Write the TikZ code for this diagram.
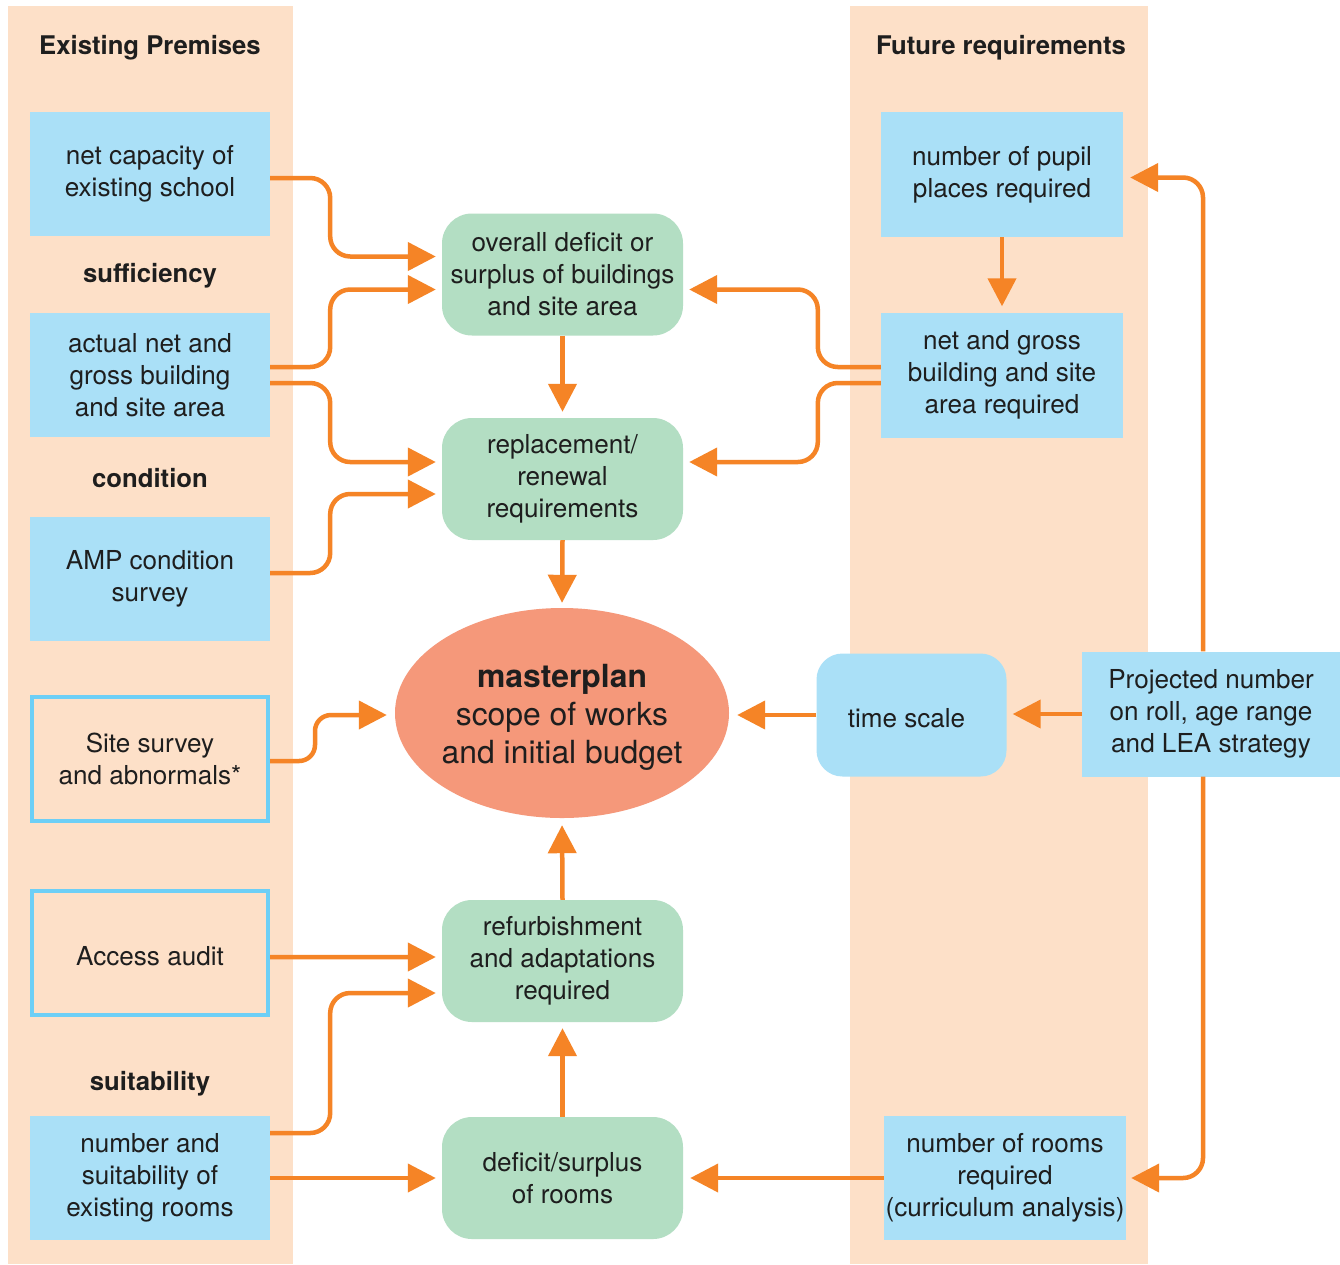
\documentclass[tikz,border=0pt]{standalone}
\usepackage{fontspec}
\setmainfont{TeX Gyre Heros}
\usetikzlibrary{arrows.meta,shapes.geometric,calc}

\definecolor{panelpeach}{HTML}{FDE0C8}
\definecolor{boxblue}{HTML}{AAE0F7}
\definecolor{edgeblue}{HTML}{6DCFF6}
\definecolor{boxgreen}{HTML}{B3DEC3}
\definecolor{flowor}{HTML}{F58426}
\definecolor{planred}{HTML}{F5987A}
\definecolor{ink}{HTML}{1E1E1E}

\begin{document}
\begin{tikzpicture}[x=1bp,y=-1bp,
  basetext/.style={font=\fontsize{26.2}{32}\selectfont, align=center, inner sep=0pt, text=ink,
                   execute at begin node={\rule{0pt}{25bp}}},
  heading/.style={basetext, font=\bfseries\fontsize{25.8}{32}\selectfont},
  inbox/.style={basetext, rectangle, fill=boxblue, minimum width=240bp, minimum height=124bp},
  auditbox/.style={basetext, rectangle, fill=panelpeach, draw=edgeblue, line width=4bp,
                   minimum width=236bp, minimum height=124bp},
  stagebox/.style={basetext, rectangle, rounded corners=30bp, fill=boxgreen,
                   minimum width=241bp, minimum height=122bp},
  timebox/.style={basetext, rectangle, rounded corners=26bp, fill=boxblue,
                  minimum width=190bp, minimum height=123bp},
  plan/.style={ellipse, fill=planred, inner sep=0pt, minimum width=334bp, minimum height=210bp},
  plantext/.style={align=center, inner sep=0pt, text=ink, font=\fontsize{32}{38}\selectfont},
  flow/.style={draw=flowor, line width=4.5bp, rounded corners=20bp,
               -{Triangle[length=28bp,width=28bp]}, shorten >=6bp},
]
\useasboundingbox (0,0) rectangle (1340,1264);
\fill[white] (0,0) rectangle (1340,1264);

% side columns
\fill[panelpeach] (8,6) rectangle (293,1264);
\fill[panelpeach] (850,6) rectangle (1148,1264);

% column headings and group labels
\node[heading] (hexist) at (150,45) {Existing Premises};
\node[heading] (hfuture) at (1001,45) {Future requirements};
\node[heading] (lsuff) at (150,273) {sufficiency};
\node[heading] (lcond) at (150,475) {condition};
\node[heading] (lsuit) at (150,1081) {suitability};

% existing premises
\node[inbox] (A) at (150,174) {net capacity of\\existing school};
\node[inbox] (B) at (150,375) {actual net and\\gross building\\and site area};
\node[inbox] (C) at (150,579) {AMP condition\\survey};
\node[auditbox] (D) at (150,759) {Site survey\\and abnormals*};
\node[auditbox] (E) at (150,953) {Access audit};
\node[inbox] (F) at (150,1178) {number and\\suitability of\\existing rooms};

% analysis stages
\node[stagebox] (G1) at (562.5,274.5) {overall deficit or\\surplus of buildings\\and site area};
\node[stagebox] (G2) at (562.5,479) {replacement/\\renewal\\requirements};
\node[plan] (M) at (562,713) {};
\node[plantext] (Mtext) at (M.center) {\rule{0pt}{32bp}\textbf{masterplan}\\scope of works\\and initial budget};
\node[stagebox] (G3) at (562.5,961) {refurbishment\\and adaptations\\required};
\node[stagebox] (G4) at (562.5,1178) {deficit/surplus\\of rooms};

% future requirements
\node[inbox, minimum width=242bp, minimum height=125bp] (R1) at (1002,174.5) {number of pupil\\places required};
\node[inbox, minimum width=242bp, minimum height=125bp] (R2) at (1002,375) {net and gross\\building and site\\area required};
\node[timebox] (T) at (911.5,715) {\hspace*{-10bp}time scale};
\node[inbox, minimum width=258bp, minimum height=125bp] (P) at (1211,714) {Projected number\\on roll, age range\\and LEA strategy};
\node[inbox, minimum width=242bp] (R3) at (1005,1178) {number of rooms\\required\\(curriculum analysis)};

% connectors into the sufficiency and condition stages
\draw[flow] ([yshift=-4bp]A.east) -- ++(60,0) |- ([yshift=18bp]G1.west);
\draw[flow] ([yshift=8bp]B.east) -- ++(60,0) |- ([yshift=-15bp]G1.west);
\draw[flow] ([yshift=-8bp]B.east) -- ++(60,0) |- ([yshift=17bp]G2.west);
\draw[flow] ([yshift=6bp]C.east) -- ++(60,0) |- ([yshift=-15bp]G2.west);
\draw[flow] ([yshift=8bp]R2.west) -- ++(-63,0) |- ([yshift=-15bp]G1.east);
\draw[flow] ([yshift=-8bp]R2.west) -- ++(-63,0) |- ([yshift=17bp]G2.east);
\draw[flow] (R1.south) -- (R2.north);
\draw[flow] (G1.south) -- (G2.north);
\draw[flow, shorten >=5bp] (G2.south) -- (M.north);

% connectors into the masterplan
\draw[flow, rounded corners=16bp, shorten >=8bp] ([yshift=-2bp]D.east) -- ++(45,0) |- ([yshift=-2bp]M.west);
\draw[flow, shorten >=8bp] (T.west) -- (T.west -| M.east);
\draw[flow] (P.west) -- (P.west -| T.east);
\draw[flow, shorten >=7bp] (G3.north) -- (M.south);

% projected numbers feed both future requirement boxes
\draw[flow, shorten >=7bp] ([xshift=-8bp]P.north) |- ([yshift=-3bp]R1.east);
\draw[flow, shorten >=5bp] ([xshift=-8bp]P.south) |- (R3.east);

% suitability connectors
\draw[flow] ([yshift=-4bp]E.east) -- ([yshift=4bp]G3.west);
\draw[flow] ([yshift=45bp]F.east) -- ++(60,0) |- ([yshift=-32bp]G3.west);
\draw[flow] (F.east) -- (F.east -| G4.west);
\draw[flow, shorten >=7bp] (R3.west) -- (R3.west -| G4.east);
\draw[flow] (G4.north) -- (G3.south);
\end{tikzpicture}
\end{document}
